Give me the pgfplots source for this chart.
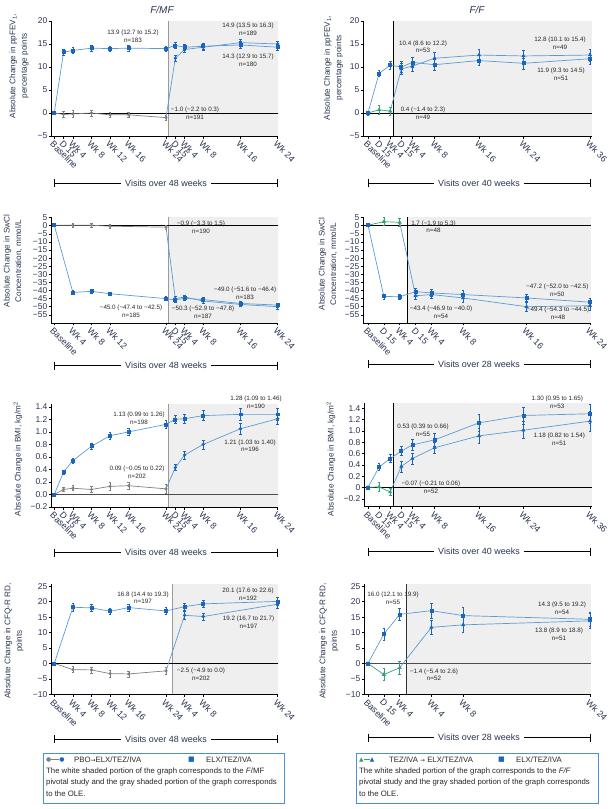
\documentclass[border=0pt]{standalone}
\usepackage{fontspec}
\setmainfont{Liberation Sans}
\newfontfamily\dejavu{DejaVu Sans}
\usepackage{pgfplots}
\pgfplotsset{compat=1.18}
\definecolor{lblue}{HTML}{5B9BD5}
\definecolor{dblue}{HTML}{1A66BF}
\definecolor{pgray}{HTML}{7F7F7F}
\definecolor{pgreen}{HTML}{33A373}
\definecolor{shadegray}{HTML}{EFEFEF}
\definecolor{axtext}{HTML}{2B3552}
\definecolor{legblue}{HTML}{4A90D9}
\definecolor{divgray}{HTML}{9A9A9A}
\pgfplotsset{
  panel/.style={scale only axis, clip=false, axis on top, anchor=south west,
    axis x line*=bottom, axis y line*=left,
    tick align=outside, major tick length=2.5bp,
    every tick/.style={black, line width=0.5pt},
    axis line style={black, line width=0.5pt},
    xticklabel style={font=\fontsize{9}{10}\selectfont, rotate=-45, anchor=north west, text=axtext, inner sep=1pt},
    yticklabel style={font=\fontsize{8.5}{9}\selectfont, text=axtext, inner sep=1pt},
    /pgf/number format/assume math mode=true},
  ebar/.style={error bars/y dir=both, error bars/y explicit,
    error bars/error bar style={line width=0.5pt, #1},
    error bars/error mark options={rotate=90, mark size=1.3pt, line width=0.5pt, #1}},
  ebar/.default={},
  grayser/.style={color=pgray, line width=0.7pt, mark=*, mark size=1.2pt, mark options={fill=pgray}, ebar},
  conn/.style={color=lblue, line width=0.7pt, no marks, forget plot},
  circser/.style={color=lblue, line width=0.7pt, mark=*, mark size=1.3pt, mark options={draw=dblue, fill=dblue}, ebar=dblue},
  sqser/.style={color=lblue, line width=0.7pt, mark=square*, mark size=1.5pt, mark options={draw=dblue, fill=dblue}, ebar=dblue},
  triser/.style={color=lblue, line width=0.7pt, mark=triangle*, mark size=1.7pt, mark options={draw=dblue, fill=dblue}, ebar=dblue},
  greenser/.style={color=pgreen, line width=0.7pt, mark=triangle*, mark size=1.7pt, mark options={fill=pgreen}, ebar},
}
\tikzset{
  ann/.style={font=\fontsize{6.3}{7.8}\selectfont, align=center, text=black!85, inner sep=0pt},
  ylab/.style={rotate=90, align=center, font=\fontsize{8.2}{11.5}\selectfont, text=axtext, inner sep=0pt},
  leg/.style={anchor=west, font=\fontsize{7.8}{9}\selectfont, text=black!85, inner sep=0pt},
}
\newcommand\bracket[4]{%
  \draw[line width=0.5pt] (#1,#3) -- (#2,#3);
  \draw[line width=0.5pt] (#1,#3-4) -- (#1,#3+4);
  \draw[line width=0.5pt] (#2,#3-4) -- (#2,#3+4);
  \node[fill=white, inner xsep=4pt, inner ysep=1pt, font=\fontsize{9}{10}\selectfont, text=axtext] at ({(#1+#2)/2},#3) {#4};}
\begin{document}
\begin{tikzpicture}
\useasboundingbox (0,0) rectangle (613bp,-809bp);

% ---------------- Panel A: ppFEV1 F/MF
\begin{axis}[panel, at={(51bp,-136bp)}, width=227.2bp, height=115bp,
  xmin=-0.7, xmax=48.1, ymin=-5, ymax=20,
  xtick={0,2,4,8,12,16,24,26,28,32,40,48},
  xticklabels={Baseline,D 15,Wk 4,Wk 8,Wk 12,Wk 16,Wk 24,D 15,Wk 4,Wk 8,Wk 16,Wk 24},
  ytick={-5,0,5,10,15,20}, yticklabels={−5,0,5,10,15,20}]
\fill[shadegray] (axis cs:24.5,-5) rectangle (axis cs:48.1,20);
\draw[divgray, line width=1.3pt] (axis cs:24.5,-5) -- (axis cs:24.5,20);
\draw[black, line width=0.6pt] (axis cs:-0.7,0) -- (axis cs:48.1,0);
\addplot[grayser] coordinates {(0,0) +- (0,0.3) (2,-0.3) +- (0,0.6) (4,-0.2) +- (0,0.7) (8,0) +- (0,0.6) (12,-0.4) +- (0,0.6) (16,-0.4) +- (0,0.6) (24,-1.0) +- (0,0.6)};
\addplot[conn] coordinates {(24,-1.0) (26,11.9)};
\addplot[circser] coordinates {(26,11.9) +- (0,0.7) (28,13.8) +- (0,0.6) (32,14.3) +- (0,0.6) (40,15.3) +- (0,0.7) (48,15.0) +- (0,0.7)};
\addplot[sqser] coordinates {(0,0) +- (0,0.3) (2,13.2) +- (0,0.6) (4,13.6) +- (0,0.6) (8,14.1) +- (0,0.6) (12,14.0) +- (0,0.6) (16,14.1) +- (0,0.6) (24,14.0) +- (0,0.6) (26,14.7) +- (0,0.7) (28,14.3) +- (0,0.6) (32,14.5) +- (0,0.6) (40,14.8) +- (0,0.7) (48,14.3) +- (0,0.7)};
\end{axis}

% ---------------- Panel B: ppFEV1 F/F
\begin{axis}[panel, at={(363bp,-136bp)}, width=228.7bp, height=115bp,
  xmin=-0.9, xmax=40.3, ymin=-5, ymax=20,
  xtick={0,2,4,6,8,12,20,28,40},
  xticklabels={Baseline,D 15,Wk 4,D 15,Wk 4,Wk 8,Wk 16,Wk 24,Wk 36},
  ytick={-5,0,5,10,15,20}, yticklabels={−5,0,5,10,15,20}]
\fill[shadegray] (axis cs:4.56,-5) rectangle (axis cs:40.3,20);
\draw[black, line width=0.6pt] (axis cs:4.56,-5) -- (axis cs:4.56,20);
\draw[black, line width=0.6pt] (axis cs:-0.9,0) -- (axis cs:40.3,0);
\addplot[greenser] coordinates {(0,0) +- (0,0.4) (2,0.7) +- (0,0.9) (4,0.4) +- (0,0.9)};
\addplot[conn] coordinates {(4,0.4) (6,9.6)};
\addplot[triser] coordinates {(6,9.6) +- (0,1.2) (8,10.2) +- (0,1.1) (12,11.9) +- (0,1.3) (20,12.6) +- (0,1.3) (28,12.4) +- (0,1.3) (40,12.6) +- (0,1.3)};
\addplot[sqser] coordinates {(0,0) +- (0,0.4) (2,8.6) +- (0,0.7) (4,10.4) +- (0,0.9) (6,10.0) +- (0,1.2) (8,11.0) +- (0,1.1) (12,10.5) +- (0,1.2) (20,11.4) +- (0,1.1) (28,10.8) +- (0,1.2) (40,11.8) +- (0,1.2)};
\end{axis}

% ---------------- Panel C: SwCl F/MF
\begin{axis}[panel, at={(51bp,-322.9bp)}, width=227.2bp, height=106.1bp,
  xmin=-0.7, xmax=48.1, ymin=-60, ymax=5.5,
  xtick={0,4,8,12,24,26,28,32,40,48},
  xticklabels={Baseline,Wk 4,Wk 8,Wk 12,Wk 24,D 15,Wk 4,Wk 8,Wk 16,Wk 24},
  ytick={-55,-50,-45,-40,-35,-30,-25,-20,-15,-10,-5,0,5},
  yticklabels={−55,−50,−45,−40,−35,−30,−25,−20,−15,−10,−5,0,5}]
\fill[shadegray] (axis cs:24.6,-60) rectangle (axis cs:48.1,5.5);
\draw[divgray, line width=1.1pt] (axis cs:24.6,-60) -- (axis cs:24.6,5.5);
\draw[black, line width=0.6pt] (axis cs:-0.7,0) -- (axis cs:48.1,0);
\addplot[grayser] coordinates {(0,0.3) +- (0,0.8) (4,0.3) +- (0,1.0) (8,0.3) +- (0,1.0) (12,-0.3) +- (0,1.0) (24,-0.9) +- (0,1.2)};
\addplot[conn] coordinates {(24,-0.9) (26,-45.0)};
\addplot[circser] coordinates {(26,-45.0) +- (0,1.2) (28,-44.0) +- (0,1.2) (32,-46.5) +- (0,1.2) (40,-48.6) +- (0,1.2) (48,-50.0) +- (0,1.3)};
\addplot[sqser] coordinates {(0,0.3) +- (0,0.8) (4,-41.2) +- (0,1.2) (8,-40.5) +- (0,1.2) (12,-42.0) +- (0,1.2) (24,-45.0) +- (0,1.2) (26,-45.8) +- (0,1.2) (28,-44.8) +- (0,1.2) (32,-45.6) +- (0,1.2) (40,-48.0) +- (0,1.3) (48,-49.0) +- (0,1.3)};
\end{axis}

% ---------------- Panel D: SwCl F/F
\begin{axis}[panel, at={(363bp,-322.9bp)}, width=228bp, height=106.1bp,
  xmin=-0.63, xmax=28.13, ymin=-60, ymax=5.5,
  xtick={0,2,4,6,8,12,20,28},
  xticklabels={Baseline,D 15,Wk 4,D 15,Wk 4,Wk 8,Wk 16,Wk 24},
  ytick={-55,-50,-45,-40,-35,-30,-25,-20,-15,-10,-5,0,5},
  yticklabels={−55,−50,−45,−40,−35,−30,−25,−20,−15,−10,−5,0,5}]
\fill[shadegray] (axis cs:4.96,-60) rectangle (axis cs:28.13,5.5);
\draw[black, line width=0.6pt] (axis cs:4.96,-60) -- (axis cs:4.96,5.5);
\draw[black, line width=0.6pt] (axis cs:-0.63,0) -- (axis cs:28.13,0);
\addplot[greenser] coordinates {(0,0.3) +- (0,0.6) (2,2.5) +- (0,2.5) (4,2.1) +- (0,2.2)};
\addplot[conn] coordinates {(4,2.1) (6,-43.2)};
\addplot[triser] coordinates {(6,-43.2) +- (0,2.5) (8,-42.5) +- (0,2.0) (12,-44.6) +- (0,2.5) (20,-50.0) +- (0,2.5) (28,-49.4) +- (0,2.5)};
\addplot[sqser] coordinates {(0,0.3) +- (0,0.6) (2,-43.6) +- (0,1.5) (4,-43.9) +- (0,1.5) (6,-40.7) +- (0,2.0) (8,-41.5) +- (0,2.0) (12,-42.5) +- (0,2.5) (20,-44.6) +- (0,2.0) (28,-47.2) +- (0,2.5)};
\end{axis}

% ---------------- Panel E: BMI F/MF
\begin{axis}[panel, at={(51bp,-507bp)}, width=227.2bp, height=103.3bp,
  xmin=-0.7, xmax=48.1, ymin=-0.2, ymax=1.45,
  xtick={0,2,4,8,12,16,24,26,28,32,40,48},
  xticklabels={Baseline,D 15,Wk 4,Wk 8,Wk 12,Wk 16,Wk 24,D 15,Wk 4,Wk 8,Wk 16,Wk 24},
  ytick={-0.2,0,0.2,0.4,0.6,0.8,1.0,1.2,1.4},
  yticklabels={−0.2,0.0,0.2,0.4,0.6,0.8,1.0,1.2,1.4}]
\fill[shadegray] (axis cs:24.55,-0.2) rectangle (axis cs:48.1,1.45);
\draw[divgray, line width=1.3pt] (axis cs:24.55,-0.2) -- (axis cs:24.55,1.45);
\draw[black!70, line width=0.6pt] (axis cs:-0.7,0) -- (axis cs:48.1,0);
\addplot[grayser] coordinates {(0,0) +- (0,0.01) (2,0.08) +- (0,0.03) (4,0.10) +- (0,0.04) (8,0.08) +- (0,0.05) (12,0.13) +- (0,0.06) (16,0.14) +- (0,0.06) (24,0.09) +- (0,0.07)};
\addplot[conn] coordinates {(24,0.09) (26,0.43)};
\addplot[circser] coordinates {(26,0.43) +- (0,0.05) (28,0.63) +- (0,0.06) (32,0.80) +- (0,0.07) (40,1.05) +- (0,0.08) (48,1.21) +- (0,0.09)};
\addplot[sqser] coordinates {(0,0) +- (0,0.01) (2,0.36) +- (0,0.03) (4,0.54) +- (0,0.04) (8,0.77) +- (0,0.05) (12,0.94) +- (0,0.05) (16,1.00) +- (0,0.06) (24,1.12) +- (0,0.07) (26,1.20) +- (0,0.07) (28,1.21) +- (0,0.07) (32,1.26) +- (0,0.08) (40,1.28) +- (0,0.09) (48,1.28) +- (0,0.09)};
\end{axis}

% ---------------- Panel F: BMI F/F
\begin{axis}[panel, at={(364bp,-506.7bp)}, width=227.7bp, height=103.7bp,
  xmin=-0.72, xmax=40.3, ymin=-0.34, ymax=1.49,
  xtick={0,2,4,6,8,12,20,28,40},
  xticklabels={Baseline,D 15,Wk 4,D 15,Wk 4,Wk 8,Wk 16,Wk 24,Wk 36},
  ytick={-0.2,0,0.2,0.4,0.6,0.8,1.0,1.2,1.4},
  yticklabels={−0.2,0,0.2,0.4,0.6,0.8,1.0,1.2,1.4}]
\fill[shadegray] (axis cs:4.56,-0.34) rectangle (axis cs:40.3,1.49);
\draw[black, line width=0.6pt] (axis cs:4.56,-0.34) -- (axis cs:4.56,1.49);
\draw[black, line width=0.6pt] (axis cs:-0.72,0) -- (axis cs:40.3,0);
\addplot[greenser] coordinates {(0,0) +- (0,0.01) (2,0.01) +- (0,0.08) (4,-0.08) +- (0,0.06)};
\addplot[conn] coordinates {(4,-0.08) (6,0.37)};
\addplot[triser] coordinates {(6,0.37) +- (0,0.10) (8,0.51) +- (0,0.10) (12,0.70) +- (0,0.10) (20,0.91) +- (0,0.13) (28,1.01) +- (0,0.15) (40,1.17) +- (0,0.17)};
\addplot[sqser] coordinates {(0,0) +- (0,0.01) (2,0.36) +- (0,0.06) (4,0.51) +- (0,0.07) (6,0.64) +- (0,0.08) (8,0.75) +- (0,0.10) (12,0.84) +- (0,0.12) (20,1.14) +- (0,0.15) (28,1.27) +- (0,0.15) (40,1.30) +- (0,0.17)};
\end{axis}

% ---------------- Panel G: CFQ-R F/MF
\begin{axis}[panel, at={(51bp,-694.3bp)}, width=227.2bp, height=110.5bp,
  xmin=-0.7, xmax=48.1, ymin=-10, ymax=25.8,
  xtick={0,4,8,12,16,24,28,32,48},
  xticklabels={Baseline,Wk 4,Wk 8,Wk 12,Wk 16,Wk 24,Wk 4,Wk 8,Wk 24},
  ytick={-10,-5,0,5,10,15,20,25}, yticklabels={−10,−5,0,5,10,15,20,25}]
\fill[shadegray] (axis cs:25.4,-10) rectangle (axis cs:48.1,25.8);
\draw[divgray, line width=1.3pt] (axis cs:25.4,-10) -- (axis cs:25.4,25.8);
\draw[black, line width=0.6pt] (axis cs:-0.7,0) -- (axis cs:48.1,0);
\addplot[grayser] coordinates {(0,0) +- (0,0.3) (4,-2.0) +- (0,1.0) (8,-2.1) +- (0,1.0) (12,-3.3) +- (0,1.1) (16,-3.4) +- (0,1.0) (24,-2.4) +- (0,1.1)};
\addplot[conn] coordinates {(24,-2.4) (28,15.6)};
\addplot[circser] coordinates {(28,15.6) +- (0,1.2) (32,15.2) +- (0,1.2) (48,19.2) +- (0,1.2)};
\addplot[sqser] coordinates {(0,0) +- (0,0.3) (4,18.2) +- (0,1.2) (8,18.0) +- (0,1.1) (12,16.9) +- (0,1.1) (16,18.1) +- (0,1.1) (24,17.0) +- (0,1.2) (28,18.4) +- (0,1.2) (32,19.3) +- (0,1.2) (48,20.1) +- (0,1.2)};
\end{axis}

% ---------------- Panel H: CFQ-R F/F
\begin{axis}[panel, at={(364bp,-694.3bp)}, width=226.8bp, height=110.5bp,
  xmin=-0.5, xmax=28.1, ymin=-10, ymax=25.8,
  xtick={0,2,4,8,12,28},
  xticklabels={Baseline,D 15,Wk 4,Wk 4,Wk 8,Wk 24},
  ytick={-10,-5,0,5,10,15,20,25}, yticklabels={−10,−5,0,5,10,15,20,25}]
\fill[shadegray] (axis cs:4.9,-10) rectangle (axis cs:28.1,25.8);
\draw[black!80, line width=0.8pt] (axis cs:4.9,-10) -- (axis cs:4.9,25.8);
\draw[black!70, line width=0.6pt] (axis cs:-0.5,0) -- (axis cs:28.1,0);
\addplot[greenser] coordinates {(0,0) +- (0,0.3) (2,-3.6) +- (0,2.0) (4,-1.4) +- (0,2.0)};
\addplot[conn] coordinates {(4,-1.4) (8,11.7)};
\addplot[triser] coordinates {(8,11.7) +- (0,2.2) (12,12.5) +- (0,2.5) (28,13.8) +- (0,2.4)};
\addplot[sqser] coordinates {(0,0) +- (0,0.3) (2,9.5) +- (0,2.0) (4,15.9) +- (0,2.0) (8,17.1) +- (0,2.5) (12,15.5) +- (0,2.8) (28,14.3) +- (0,2.4)};
\end{axis}

\begin{scope}[x=1bp, y=-1bp]
% titles
\node[font=\fontsize{10}{12}\selectfont\itshape, text=axtext] at (162,10) {F/MF};
\node[font=\fontsize{10}{12}\selectfont\itshape, text=axtext] at (477,10) {F/F};
% y labels
\node[ylab] at (19,66) {Absolute Change in ppFEV\textsubscript{1},\\percentage points};
\node[ylab] at (333.5,68) {Absolute Change in ppFEV\textsubscript{1},\\percentage points};
\node[ylab] at (13,261) {Absolute Change in SwCl\\Concentration, mmol/L};
\node[ylab] at (328,264) {Absolute Change in SwCl\\Concentration, mmol/L};
\node[ylab] at (18,459) {Absolute Change in BMI, kg/m\textsuperscript{2}};
\node[ylab] at (331,459) {Absolute Change in BMI, kg/m\textsuperscript{2}};
\node[ylab] at (14,641) {Absolute Change in CFQ-R RD,\\points};
\node[ylab] at (329,641) {Absolute Change in CFQ-R RD,\\points};
% brackets
\bracket{54.3}{277.7}{183}{Visits over 48 weeks}
\bracket{368}{590}{183}{Visits over 40 weeks}
\bracket{54.3}{277.7}{365.7}{Visits over 48 weeks}
\bracket{368}{590}{364}{Visits over 28 weeks}
\bracket{54.3}{277.7}{552.7}{Visits over 48 weeks}
\bracket{368}{590}{551.7}{Visits over 40 weeks}
\bracket{54.3}{277.7}{739}{Visits over 48 weeks}
\bracket{368}{590}{737.7}{Visits over 28 weeks}
% annotations A
\node[ann] at (133,36) {13.9 (12.7 to 15.2)\\n=183};
\node[ann] at (248,29.5) {14.9 (13.5 to 16.3)\\n=189};
\node[ann] at (248,60) {14.3 (12.9 to 15.7)\\n=180};
\node[ann] at (195,113) {−1.0 (−2.2 to 0.3)\\n=191};
% B
\node[ann] at (423,46.7) {10.4 (8.6 to 12.2)\\n=53};
\node[ann] at (560,43.3) {12.8 (10.1 to 15.4)\\n=49};
\node[ann] at (561,74.3) {11.9 (9.3 to 14.5)\\n=51};
\node[ann] at (423,113.3) {0.4 (−1.4 to 2.3)\\n=49};
% C
\node[ann] at (201,227) {−0.9 (−3.3 to 1.5)\\n=190};
\node[ann] at (131,311) {−45.0 (−47.4 to −42.5)\\n=185};
\node[ann] at (245,293) {−49.0 (−51.6 to −46.4)\\n=183};
\node[ann] at (203,312.5) {−50.3 (−52.9 to −47.8)\\n=187};
% D
\node[ann] at (433.5,226.7) {1.7 (−1.9 to 5.3)\\n=48};
\node[ann] at (557.3,290) {−47.2 (−52.0 to −42.5)\\n=50};
\node[ann] at (558,313.3) {−49.4 (−54.3 to −44.5)\\n=48};
\node[ann] at (441,312.5) {−43.4 (−46.9 to −40.0)\\n=54};
% E
\node[ann] at (139,418.3) {1.13 (0.99 to 1.26)\\n=198};
\node[ann] at (137,472) {0.09 (−0.05 to 0.22)\\n=202};
\node[ann] at (256,402) {1.28 (1.09 to 1.46)\\n=190};
\node[ann] at (250,445.8) {1.21 (1.03 to 1.40)\\n=196};
% F
\node[ann] at (423,430) {0.53 (0.39 to 0.66)\\n=55};
\node[ann] at (559.3,439.5) {1.18 (0.82 to 1.54)\\n=51};
\node[ann] at (431,487) {−0.07 (−0.21 to 0.06)\\n=52};
\node[ann] at (557.3,402) {1.30 (0.95 to 1.65)\\n=53};
% G
\node[ann] at (143,597.8) {16.8 (14.4 to 19.3)\\n=197};
\node[ann] at (201,674.5) {−2.5 (−4.9 to 0.0)\\n=202};
\node[ann] at (248,594.5) {20.1 (17.6 to 22.6)\\n=192};
\node[ann] at (248.5,622) {19.2 (16.7 to 21.7)\\n=197};
% H
\node[ann] at (393,598) {16.0 (12.1 to 19.9)\\n=55};
\node[ann] at (562,608) {14.3 (9.5 to 19.2)\\n=54};
\node[ann] at (559,634) {13.8 (8.9 to 18.8)\\n=51};
\node[ann] at (434,674.7) {−1.4 (−5.4 to 2.6)\\n=52};
% legends
\draw[legblue, line width=0.8pt] (43,753) rectangle (284,803);
\node[leg] at (46,760) {{\dejavu\fontsize{6}{7}\selectfont\textcolor{pgray}{●}\textcolor{pgray}{\rule[0.45ex]{8pt}{0.7pt}}\textcolor{dblue}{●}}};
\node[leg] at (74,760) {PBO{\dejavu\fontsize{6}{7}\selectfont →}ELX/TEZ/IVA};
\node[leg] at (188,760) {{\dejavu\fontsize{7}{8}\selectfont\textcolor{dblue}{■}}};
\node[leg] at (206,760) {ELX/TEZ/IVA};
\node[leg] at (46,771) {The white shaded portion of the graph corresponds to the \textit{F}/MF};
\node[leg] at (46,782.5) {pivotal study and the gray shaded portion of the graph corresponds};
\node[leg] at (46,794) {to the OLE.};
\draw[legblue, line width=0.8pt] (356,753) rectangle (598,803);
\node[leg] at (359,760) {{\dejavu\fontsize{6}{7}\selectfont\textcolor{pgreen}{▲}\textcolor{pgreen}{\rule[0.45ex]{6pt}{0.7pt}}\textcolor{dblue}{▲}}};
\node[leg] at (389,760) {TEZ/IVA {\dejavu\fontsize{6}{7}\selectfont →} ELX/TEZ/IVA};
\node[leg] at (498,760) {{\dejavu\fontsize{7}{8}\selectfont\textcolor{dblue}{■}}};
\node[leg] at (516,760) {ELX/TEZ/IVA};
\node[leg] at (359,771) {The white shaded portion of the graph corresponds to the \textit{F/F}};
\node[leg] at (359,782.5) {pivotal study and the gray shaded portion of the graph corresponds};
\node[leg] at (359,794) {to the OLE.};
\end{scope}
\end{tikzpicture}
\end{document}
